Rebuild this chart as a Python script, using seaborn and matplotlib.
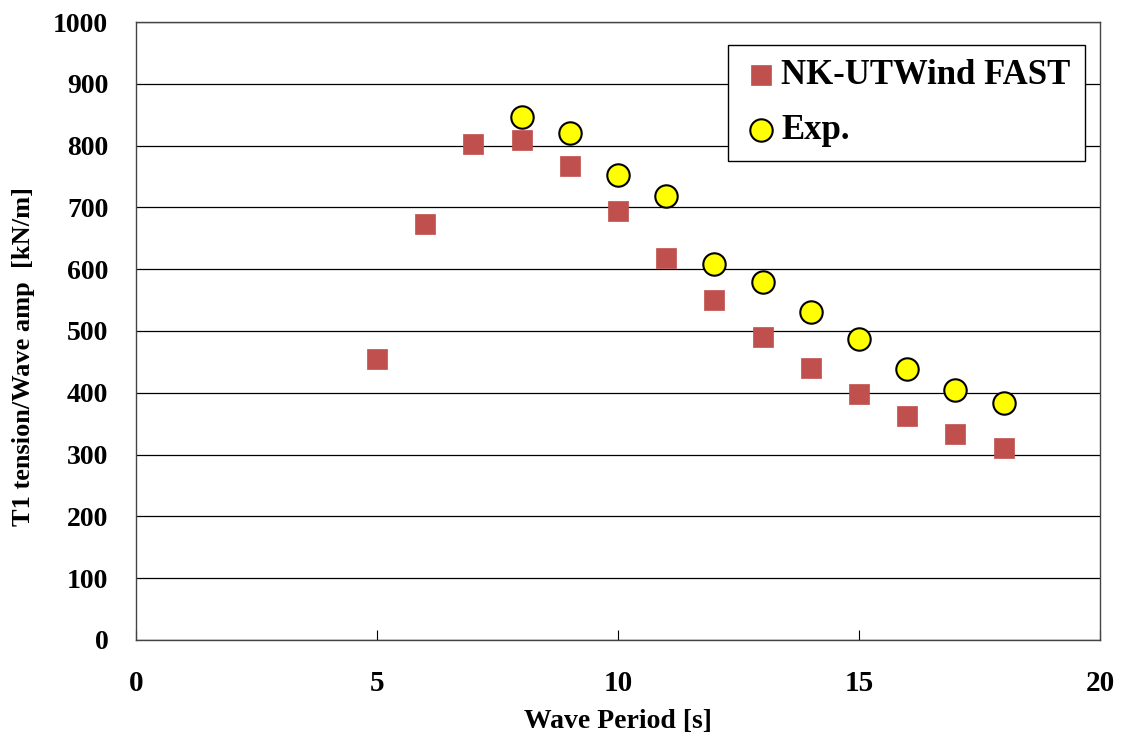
import pandas as pd
import numpy as np
import matplotlib.pyplot as plt
import seaborn as sns

# Data
period_sim = [5, 6, 7, 8, 9, 10, 11, 12, 13, 14, 15, 16, 17, 18]
tension_sim = [455, 673, 803, 809, 767, 694, 618, 550, 490, 440, 398, 362, 333, 311]

period_exp = [8, 9, 10, 11, 12, 13, 14, 15, 16, 17, 18]
tension_exp = [846, 820, 752, 718, 608, 579, 531, 487, 438, 405, 383]

df_sim = pd.DataFrame({'Period': period_sim, 'Tension': tension_sim})
df_exp = pd.DataFrame({'Period': period_exp, 'Tension': tension_exp})

sns.set_style('white')
plt.rcParams['font.family'] = ['Liberation Serif', 'DejaVu Serif']
plt.rcParams['font.weight'] = 'bold'
plt.rcParams['text.color'] = 'black'
plt.rcParams['axes.labelcolor'] = 'black'
plt.rcParams['xtick.color'] = 'black'
plt.rcParams['ytick.color'] = 'black'

fig = plt.figure(figsize=(11.28, 7.38), dpi=100)
ax = fig.add_axes([0.1206, 0.133, 0.8546, 0.837])

sns.scatterplot(data=df_sim, x='Period', y='Tension', marker='s', s=200,
                color='#C0504D', edgecolor='#C0504D', linewidth=0.5,
                label='NK-UTWind FAST', ax=ax, zorder=3)
sns.scatterplot(data=df_exp, x='Period', y='Tension', marker='o', s=260,
                color='#FFFF00', edgecolor='black', linewidth=1.5,
                label='Exp.', ax=ax, zorder=4)

ax.set_xlim(0, 20)
ax.set_ylim(0, 1000)
ax.set_xticks(np.arange(0, 21, 5))
ax.set_yticks(np.arange(0, 1001, 100))
ax.yaxis.grid(True, color='black', linewidth=0.9)
ax.xaxis.grid(False)
ax.set_axisbelow(True)

for sp in ax.spines.values():
    sp.set_visible(True)
    sp.set_color('#444444')
    sp.set_linewidth(1.0)

ax.tick_params(axis='x', direction='in', length=7, width=0.8,
               labelsize=21, pad=22, bottom=True)
ax.tick_params(axis='y', length=0, labelsize=20, pad=20)
for lbl in ax.get_xticklabels() + ax.get_yticklabels():
    lbl.set_fontweight('bold')

ax.set_xlabel('Wave Period [s]', fontsize=20, fontweight='bold', labelpad=8)
ax.set_ylabel('T1 tension/Wave amp  [kN/m]', fontsize=19, fontweight='bold')
ax.yaxis.set_label_coords(-0.105, 0.458)

leg = ax.legend(loc='upper right', bbox_to_anchor=(0.984, 0.963), fontsize=25,
                frameon=True, fancybox=False, edgecolor='black', framealpha=1,
                borderaxespad=0, handletextpad=0.05, borderpad=0.4, labelspacing=0.65,
                handlelength=1.1, markerscale=1.0)
leg.get_frame().set_linewidth(1.0)
for t in leg.get_texts():
    t.set_fontweight('bold')

fig.savefig('out.png', dpi=100)
